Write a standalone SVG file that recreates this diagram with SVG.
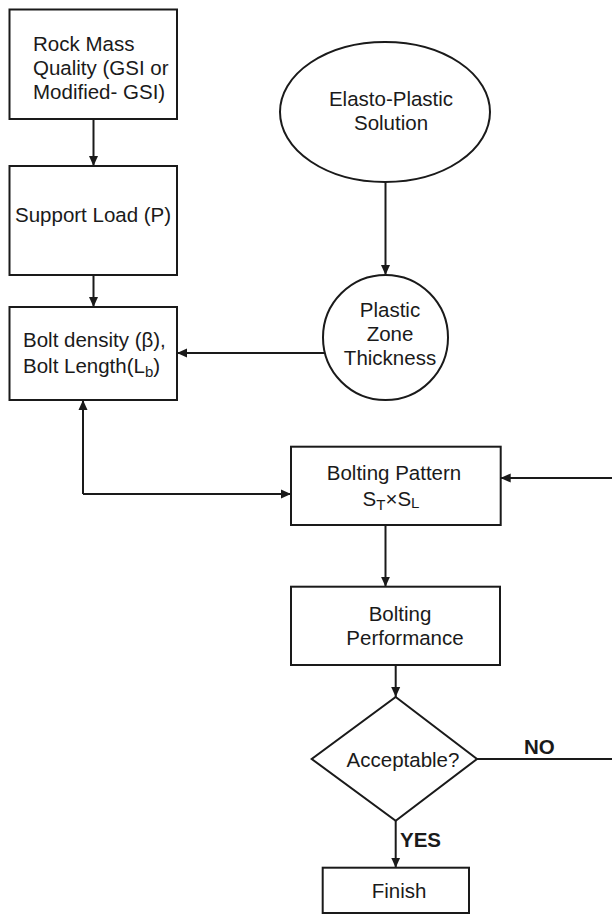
<svg xmlns="http://www.w3.org/2000/svg" width="612" height="915" viewBox="0 0 612 915">
<defs>
<style>
.shape{fill:#fff;stroke:#1a1a1a;stroke-width:2}
.conn{fill:none;stroke:#1a1a1a;stroke-width:2}
text{font-family:"Liberation Sans",Arial,sans-serif;font-size:20.5px;fill:#1a1a1a}
.c{text-anchor:middle}
.b{font-weight:bold}
.sub{font-size:15px}
</style>
<marker id="arr" viewBox="0 0 10 10" refX="10" refY="5" markerWidth="10" markerHeight="10" markerUnits="userSpaceOnUse" orient="auto">
<path d="M0,0.5 L10,5 L0,9.5 Z" fill="#1a1a1a"/>
</marker>
</defs>
<rect width="612" height="915" fill="#fff"/>
<g id="connectors">
<line class="conn" x1="93.5" y1="119" x2="93.5" y2="166" marker-end="url(#arr)"/>
<line class="conn" x1="93.5" y1="275" x2="93.5" y2="307" marker-end="url(#arr)"/>
<line class="conn" x1="385.5" y1="182" x2="385.5" y2="275" marker-end="url(#arr)"/>
<line class="conn" x1="325" y1="353" x2="177" y2="353" marker-end="url(#arr)"/>
<line class="conn" x1="83" y1="494" x2="83" y2="400" marker-end="url(#arr)"/>
<polyline class="conn" points="83,494 291,494" marker-end="url(#arr)"/>
<line class="conn" x1="612" y1="478" x2="500.7" y2="478" marker-end="url(#arr)"/>
<line class="conn" x1="385.5" y1="525" x2="385.5" y2="586.7" marker-end="url(#arr)"/>
<line class="conn" x1="395.7" y1="665" x2="395.7" y2="697" marker-end="url(#arr)"/>
<line class="conn" x1="477" y1="759" x2="612" y2="759"/>
<line class="conn" x1="395.7" y1="820.7" x2="395.7" y2="867.7" marker-end="url(#arr)"/>
<text class="b" x="524" y="754">NO</text>
<text class="b" x="400" y="847">YES</text>
</g>
<g id="rock-mass">
<rect class="shape" x="9.5" y="9.5" width="167.5" height="109.5"/>
<text x="33" y="50.5">Rock Mass</text>
<text x="33" y="74.5">Quality (GSI or</text>
<text x="33" y="98.5">Modified- GSI)</text>
</g>
<g id="support-load">
<rect class="shape" x="9.5" y="166" width="167.5" height="109"/>
<text x="15" y="222">Support Load (P)</text>
</g>
<g id="bolt-density">
<rect class="shape" x="9.5" y="307" width="167.5" height="93"/>
<text x="23" y="347">Bolt density (β),</text>
<text x="23" y="373">Bolt Length(L<tspan class="sub" dy="4">b</tspan><tspan dy="-4">)</tspan></text>
</g>
<g id="elasto-plastic">
<ellipse class="shape" cx="385" cy="112" rx="105" ry="70"/>
<text class="c" x="391" y="106">Elasto-Plastic</text>
<text class="c" x="391" y="130">Solution</text>
</g>
<g id="plastic-zone">
<circle class="shape" cx="385.5" cy="337.5" r="62.5"/>
<text class="c" x="390" y="317">Plastic</text>
<text class="c" x="390" y="341">Zone</text>
<text class="c" x="390" y="365">Thickness</text>
</g>
<g id="bolting-pattern">
<rect class="shape" x="291" y="446.7" width="209.7" height="78.3"/>
<text class="c" x="394" y="480">Bolting Pattern</text>
<text class="c" x="391" y="506">S<tspan class="sub" dy="4">T</tspan><tspan dy="-4">×S</tspan><tspan class="sub" dy="2">L</tspan></text>
</g>
<g id="bolting-performance">
<rect class="shape" x="291" y="586.7" width="209" height="78.3"/>
<text class="c" x="400" y="621">Bolting</text>
<text class="c" x="405" y="645">Performance</text>
</g>
<g id="acceptable">
<polygon class="shape" points="395.7,697 477,759 395.7,820.7 311.7,759"/>
<text class="c" x="403" y="767">Acceptable?</text>
</g>
<g id="finish">
<rect class="shape" x="322.7" y="867.7" width="146.3" height="45.3"/>
<text class="c" x="399" y="898">Finish</text>
</g>
</svg>
